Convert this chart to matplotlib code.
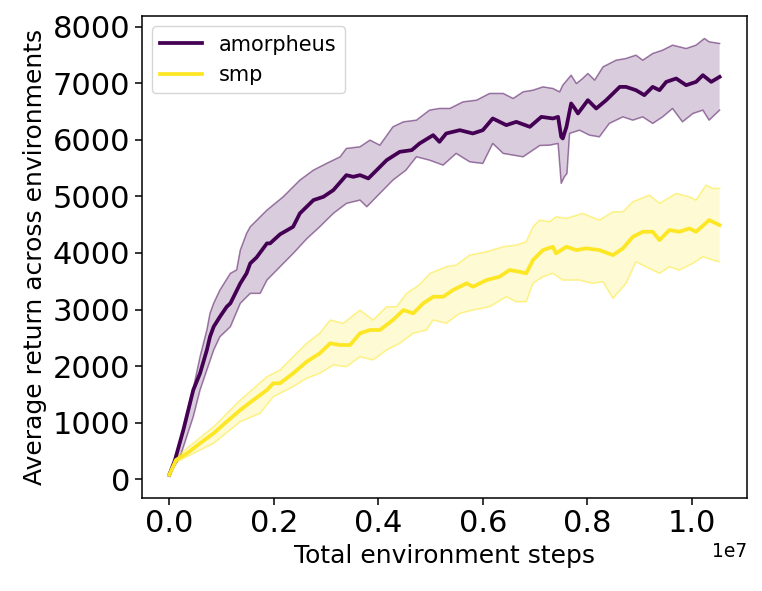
import numpy as np
import matplotlib
matplotlib.use("Agg")
import matplotlib.pyplot as plt
from matplotlib.ticker import MultipleLocator

# amorpheus (x in units of 1e7 steps)
amo_x = [0.000, 0.011, 0.027, 0.046, 0.059, 0.072, 0.078, 0.085, 0.097, 0.110,
         0.117, 0.136, 0.148, 0.155, 0.167, 0.187, 0.193, 0.212, 0.237, 0.250,
         0.276, 0.295, 0.314, 0.339, 0.352, 0.365, 0.381, 0.397, 0.416, 0.441,
         0.464, 0.479, 0.505, 0.517, 0.530, 0.556, 0.581, 0.600, 0.619, 0.645,
         0.664, 0.690, 0.712, 0.734, 0.744, 0.750, 0.753, 0.760, 0.769, 0.776,
         0.782, 0.801, 0.817, 0.836, 0.862, 0.874, 0.893, 0.909, 0.925, 0.938,
         0.951, 0.970, 0.989, 1.008, 1.021, 1.037, 1.053]
amo_mean = [76, 340, 871, 1578, 1873, 2284, 2520, 2696, 2873, 3049,
            3110, 3463, 3640, 3816, 3920, 4170, 4170, 4330, 4463, 4700,
            4935, 4993, 5111, 5376, 5346, 5376, 5318, 5465, 5641, 5788,
            5818, 5936, 6083, 5965, 6113, 6171, 6113, 6171, 6378, 6260,
            6318, 6230, 6406, 6378, 6406, 6053, 6024, 6230, 6643, 6554,
            6466, 6701, 6554, 6701, 6936, 6936, 6878, 6790, 6936, 6878,
            7025, 7084, 6966, 7025, 7143, 7025, 7113]

amo_up_x = [0.000, 0.021, 0.040, 0.059, 0.072, 0.078, 0.085, 0.097, 0.117, 0.129,
            0.136, 0.148, 0.155, 0.187, 0.218, 0.250, 0.276, 0.301, 0.327, 0.339,
            0.365, 0.384, 0.403, 0.428, 0.448, 0.473, 0.498, 0.517, 0.537, 0.562,
            0.588, 0.613, 0.639, 0.658, 0.677, 0.696, 0.715, 0.734, 0.747, 0.753,
            0.769, 0.779, 0.791, 0.801, 0.814, 0.830, 0.855, 0.874, 0.893, 0.906,
            0.925, 0.944, 0.963, 0.989, 1.008, 1.024, 1.033, 1.053]
amo_up = [76, 636, 1343, 2166, 2638, 2933, 3110, 3345, 3640, 3700,
          4051, 4346, 4463, 4758, 4993, 5288, 5465, 5583, 5700, 5848,
          5877, 5995, 5906, 6230, 6318, 6348, 6525, 6555, 6555, 6671,
          6701, 6820, 6820, 6731, 6848, 6878, 6936, 6908, 6848, 6966,
          7143, 6995, 7084, 7173, 7055, 7290, 7408, 7438, 7497, 7408,
          7526, 7585, 7674, 7614, 7674, 7792, 7733, 7703]

amo_lo_x = [0.000, 0.021, 0.046, 0.059, 0.072, 0.085, 0.097, 0.117, 0.136, 0.155,
            0.174, 0.187, 0.212, 0.237, 0.263, 0.288, 0.314, 0.339, 0.365, 0.378,
            0.403, 0.428, 0.453, 0.473, 0.498, 0.524, 0.549, 0.575, 0.600, 0.619,
            0.639, 0.677, 0.709, 0.728, 0.744, 0.750, 0.756, 0.761, 0.766, 0.785,
            0.804, 0.823, 0.842, 0.868, 0.887, 0.906, 0.925, 0.944, 0.963, 0.982,
            1.002, 1.021, 1.033, 1.053]
amo_lo = [76, 400, 1106, 1578, 1931, 2284, 2519, 2696, 3110, 3286,
          3286, 3521, 3756, 3990, 4250, 4463, 4700, 4876, 4935, 4817,
          5053, 5288, 5465, 5700, 5641, 5553, 5760, 5611, 5583, 5936,
          5760, 5700, 5900, 5906, 5936, 5230, 5346, 5406, 6113, 6171,
          6083, 6053, 6290, 6406, 6348, 6406, 6290, 6406, 6554, 6318,
          6466, 6525, 6348, 6525]

# smp
smp_x = [0.000, 0.013, 0.034, 0.059, 0.085, 0.110, 0.136, 0.161, 0.187, 0.199,
         0.212, 0.237, 0.263, 0.288, 0.308, 0.327, 0.346, 0.365, 0.384, 0.403,
         0.428, 0.448, 0.467, 0.486, 0.505, 0.524, 0.543, 0.569, 0.581, 0.607,
         0.632, 0.651, 0.670, 0.683, 0.696, 0.715, 0.734, 0.740, 0.760, 0.779,
         0.798, 0.823, 0.849, 0.868, 0.887, 0.906, 0.925, 0.938, 0.957, 0.976,
         0.995, 1.008, 1.033, 1.053]
smp_mean = [76, 341, 459, 636, 813, 1018, 1224, 1401, 1578, 1696,
            1696, 1873, 2078, 2226, 2403, 2373, 2373, 2580, 2638, 2638,
            2815, 2991, 2933, 3110, 3226, 3226, 3345, 3463, 3403, 3521,
            3580, 3698, 3668, 3640, 3875, 4051, 4110, 3993, 4110, 4051,
            4081, 4051, 3963, 4081, 4286, 4375, 4375, 4228, 4405, 4375,
            4434, 4375, 4581, 4493]

smp_up_x = [0.000, 0.013, 0.034, 0.085, 0.136, 0.187, 0.212, 0.237, 0.263, 0.288,
            0.308, 0.333, 0.365, 0.390, 0.416, 0.435, 0.454, 0.479, 0.499, 0.530,
            0.549, 0.575, 0.607, 0.639, 0.664, 0.683, 0.696, 0.709, 0.728, 0.740,
            0.760, 0.791, 0.823, 0.849, 0.868, 0.887, 0.919, 0.938, 0.970, 0.995,
            1.008, 1.027, 1.040, 1.053]
smp_up = [76, 380, 548, 929, 1401, 1813, 1931, 2166, 2403, 2580,
          2815, 2756, 2991, 2815, 3050, 3050, 3286, 3440, 3640, 3756,
          3786, 3963, 4021, 4110, 4140, 4198, 4463, 4581, 4552, 4640,
          4611, 4700, 4581, 4728, 4728, 4905, 5023, 4876, 5053, 4993,
          4935, 5200, 5141, 5141]

smp_lo_x = [0.000, 0.013, 0.034, 0.085, 0.136, 0.174, 0.199, 0.237, 0.263, 0.288,
            0.314, 0.339, 0.365, 0.390, 0.416, 0.441, 0.467, 0.492, 0.505, 0.530,
            0.556, 0.581, 0.613, 0.645, 0.664, 0.683, 0.696, 0.715, 0.734, 0.753,
            0.785, 0.810, 0.830, 0.849, 0.874, 0.893, 0.912, 0.938, 0.957, 0.976,
            1.002, 1.021, 1.040, 1.053]
smp_lo = [76, 300, 400, 636, 1018, 1166, 1459, 1636, 1784, 1873,
          2019, 1989, 2166, 2108, 2284, 2403, 2580, 2638, 2815, 2756,
          2933, 2991, 3050, 3226, 3138, 3138, 3463, 3580, 3640, 3521,
          3521, 3463, 3491, 3198, 3463, 3845, 3756, 3640, 3756, 3698,
          3816, 3933, 3875, 3845]

purple = '#440154'
yellow = '#fde725'

fig = plt.figure(figsize=(7.62, 5.91), dpi=100)
ax = fig.add_axes([0.186, 0.158, 0.794, 0.815])

def band(xu, yu, xl, yl, color):
    xu = np.array(xu) * 1e7
    xl = np.array(xl) * 1e7
    ax.fill(np.concatenate([xu, xl[::-1]]), np.concatenate([yu, yl[::-1]]),
            color=color, alpha=0.2, lw=0)
    ax.plot(xu, yu, color=color, alpha=0.5, lw=1.1)
    ax.plot(xl, yl, color=color, alpha=0.5, lw=1.1)

band(amo_up_x, amo_up, amo_lo_x, amo_lo, purple)
band(smp_up_x, smp_up, smp_lo_x, smp_lo, yellow)
ax.plot(np.array(amo_x) * 1e7, amo_mean, color=purple, lw=2.7, label='amorpheus')
ax.plot(np.array(smp_x) * 1e7, smp_mean, color=yellow, lw=2.7, label='smp')

ax.set_xlim(-0.0526e7, 1.105e7)
ax.set_ylim(-325, 8190)
ax.yaxis.set_major_locator(MultipleLocator(1000))
ax.set_xlabel('Total environment steps', fontsize=18)
ax.set_ylabel('Average return across environments', fontsize=18)
ax.tick_params(axis='both', labelsize=22, length=4.7, width=1.1)
ax.xaxis.get_offset_text().set_fontsize(13.5)
for s in ax.spines.values():
    s.set_linewidth(1.1)
ax.legend(loc='upper left', fontsize=15)

fig.savefig('out.png', dpi=100)
